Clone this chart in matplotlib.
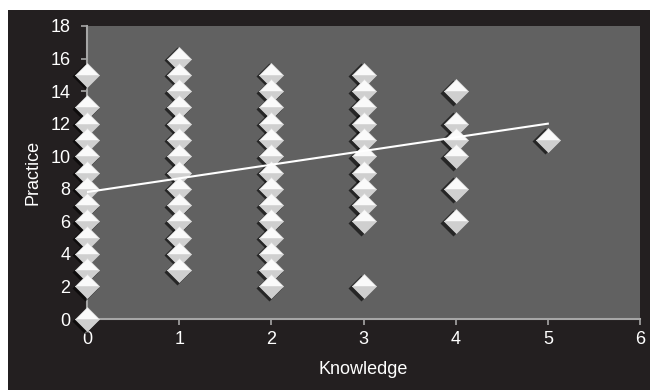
import matplotlib.pyplot as plt
import matplotlib.transforms as mtransforms
from matplotlib.patches import Rectangle

plt.rcParams['font.family'] = ['Liberation Sans', 'DejaVu Sans']

# Knowledge score -> Practice scores observed
knowledge = [0]*14 + [1]*14 + [2]*14 + [3]*11 + [4]*6 + [5]
practice = ([0, 2, 3, 4, 5, 6, 7, 8, 9, 10, 11, 12, 13, 15]
            + list(range(3, 17))
            + list(range(2, 16))
            + [2, 6, 7, 8, 9, 10, 11, 12, 13, 14, 15]
            + [6, 8, 10, 11, 12, 14]
            + [11])

# linear trend line end points
trend_x = [0, 5]
trend_y = [7.8, 12.0]

fig = plt.figure(figsize=(6.5, 3.9), dpi=100)
fig.patch.set_facecolor('white')
bg = Rectangle((8/650, 0), 1, 1 - 10/390, transform=fig.transFigure,
               facecolor='#231f20', edgecolor='none', zorder=-10)
fig.patches.append(bg)

ax = fig.add_axes([87/650, 1 - 319/390, 553/650, 293/390])
ax.set_zorder(1)
ax.set_facecolor('#616161')

# shadow behind the markers
shadow = mtransforms.offset_copy(ax.transData, fig=fig, x=-2.5, y=-1.5, units='dots')
ax.plot(knowledge, practice, 'D', ms=13, color='black', alpha=0.6,
        mec='none', transform=shadow, clip_on=False, zorder=3)
ax.plot(knowledge, practice, 'D', ms=12.5, fillstyle='bottom', mfc='#cfcfcf', mfcalt='#fafafa',
        mec='#d8d8d8', mew=0.5, clip_on=False, zorder=4)

ax.plot(trend_x, trend_y, color='white', lw=1.5, zorder=6)

ax.set_xlim(0, 6)
ax.set_ylim(0, 18)
ax.set_xticks(range(0, 7))
ax.set_yticks(range(0, 19, 2))

for s in ['top', 'right']:
    ax.spines[s].set_visible(False)
for s in ['left', 'bottom']:
    ax.spines[s].set_color('#a6a6a6')
    ax.spines[s].set_linewidth(1.5)
ax.tick_params(colors='#a6a6a6', labelcolor='white', labelsize=13, length=4, width=1.2)
ax.tick_params(axis='y', pad=8)
ax.tick_params(axis='x', pad=5)

ax.set_xlabel('Knowledge', color='white', fontsize=13, labelpad=9)
ax.set_ylabel('Practice', color='white', fontsize=13, labelpad=6)

fig.savefig('out.png', dpi=100, facecolor=fig.get_facecolor())
